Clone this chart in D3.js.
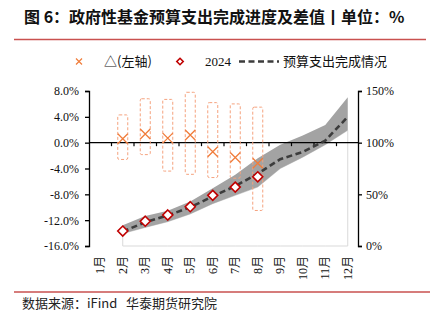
<!DOCTYPE html>
<html>
<head>
<meta charset="utf-8">
<script src="https://cdn.jsdelivr.net/npm/d3@7"></script>
<style>
  body { margin: 0; background: #fff; }
  svg { display: block; }
  text { white-space: pre; }
</style>
</head>
<body>
<script>
// categories along the bottom
var months = ['1月','2月','3月','4月','5月','6月','7月','8月','9月','10月','11月','12月'];

// budget spending progress (right axis, %), history runs from feb to dec
var progMonths = ['2月','3月','4月','5月','6月','7月','8月','9月','10月','11月','12月'];
var avgProgress = [14, 23, 29.5, 37.5, 48, 58, 70, 84, 91, 102, 125];
var bandLow  = [12, 18, 23.5, 31, 41, 49, 57, 75, 86, 98, 112];
var bandHigh = [20, 29, 34, 43, 56, 69, 85, 98, 107, 117, 144];

// 2024 values and the gap vs history (left axis, %)
var months2024 = ['2月','3月','4月','5月','6月','7月','8月'];
var progress2024 = [14.5, 24, 30, 38, 49, 57, 67];
var deltaVals = [0.6, 1.35, 0.7, 1.2, -1.4, -2.3, -3.2];
var deltaHigh = [4.3, 6.8, 6.7, 7.8, 6.2, 6.0, 5.5];
var deltaLow  = [-2.6, -1.85, -4.4, -4.9, -5.4, -5.5, -10.5];

// tick labels
var leftTicks = [-16, -12, -8, -4, 0, 4, 8];
var rightTicks = [0, 50, 100, 150];

var width = 430, height = 321;
var serif = '"Liberation Serif", "Times New Roman", "Noto Sans CJK SC", serif';
var cjk = '"Noto Sans CJK SC", sans-serif';

var svg = d3.select('body').append('svg')
    .attr('width', width)
    .attr('height', height);

// title + red rules
svg.append('text')
    .attr('x', 24).attr('y', 23)
    .attr('font-family', cjk)
    .attr('font-weight', 'bold')
    .attr('font-size', 16)
    .attr('fill', '#111')
    .text('图 6：政府性基金预算支出完成进度及差值丨单位：%');

svg.append('line')
    .attr('x1', 14).attr('x2', 426).attr('y1', 39.5).attr('y2', 39.5)
    .attr('stroke', '#c9514f').attr('stroke-width', 1.5);

svg.append('line')
    .attr('x1', 14).attr('x2', 430).attr('y1', 292).attr('y2', 292)
    .attr('stroke', '#c9514f').attr('stroke-width', 1.5);

svg.append('text')
    .attr('x', 22).attr('y', 308)
    .attr('font-family', cjk)
    .attr('font-size', 13)
    .attr('fill', '#222')
    .text('数据来源：iFind   华泰期货研究院');

// scales
var x = d3.scaleBand().domain(months).range([89, 359]).padding(0);
var cx = function(m) { return x(m) + x.bandwidth() / 2; };
var yL = d3.scaleLinear().domain([-16, 8]).range([246, 91]);
var yR = d3.scaleLinear().domain([0, 150]).range([246, 91]);

// white lower area with a light outline, then the grey range band on top
var lowArea = d3.area()
    .x(function(d, i) { return cx(progMonths[i]); })
    .y0(yR(0))
    .y1(function(d) { return yR(d); });

svg.append('path')
    .datum(bandLow)
    .attr('d', lowArea)
    .attr('fill', '#fff')
    .attr('stroke', '#d9d9d9')
    .attr('stroke-width', 1);

var band = d3.area()
    .x(function(d, i) { return cx(progMonths[i]); })
    .y0(function(d, i) { return yR(bandLow[i]); })
    .y1(function(d, i) { return yR(bandHigh[i]); });

svg.append('path')
    .datum(bandHigh)
    .attr('d', band)
    .attr('fill', '#a3a3a3');

// zero line with category ticks
svg.append('line')
    .attr('x1', 89).attr('x2', 359)
    .attr('y1', yL(0)).attr('y2', yL(0))
    .attr('stroke', '#000').attr('stroke-width', 1.3);

svg.append('g').selectAll('line')
    .data(months.slice(1))
    .enter().append('line')
        .attr('x1', function(m) { return x(m); })
        .attr('x2', function(m) { return x(m); })
        .attr('y1', yL(0)).attr('y2', yL(0) + 3.5)
        .attr('stroke', '#000').attr('stroke-width', 1.2);

// left axis
var gL = svg.append('g')
    .attr('transform', 'translate(89,0)')
    .call(d3.axisLeft(yL).tickValues(leftTicks).tickSize(4)
        .tickFormat(function(d) { return d.toFixed(1) + '%'; }));

// right axis
var gR = svg.append('g')
    .attr('transform', 'translate(358,0)')
    .call(d3.axisRight(yR).tickValues(rightTicks).tickSize(4)
        .tickFormat(function(d) { return d + '%'; }));

[gL, gR].forEach(function(g) {
    g.selectAll('path, line').attr('stroke', '#000').attr('stroke-width', 1.3);
    g.selectAll('text')
        .attr('font-family', serif)
        .attr('font-size', 12)
        .attr('fill', '#111');
});
gL.selectAll('text').attr('x', -10);
gR.selectAll('text').attr('x', 8);

// month labels, rotated
svg.append('g').selectAll('text')
    .data(months)
    .enter().append('text')
        .attr('transform', function(m) { return 'translate(' + cx(m) + ',256) rotate(-90)'; })
        .attr('dy', '0.35em')
        .attr('text-anchor', 'end')
        .attr('font-family', serif)
        .attr('font-size', 12)
        .attr('fill', '#111')
        .text(function(m) { return m; });

// dashed range boxes for the gap
svg.append('g').selectAll('rect')
    .data(months2024)
    .enter().append('rect')
        .attr('x', function(m) { return cx(m) - 5; })
        .attr('width', 10)
        .attr('y', function(m, i) { return yL(deltaHigh[i]); })
        .attr('height', function(m, i) { return yL(deltaLow[i]) - yL(deltaHigh[i]); })
        .attr('rx', 1.5)
        .attr('fill', 'none')
        .attr('stroke', '#f5a27e')
        .attr('stroke-width', 1)
        .attr('stroke-dasharray', '3,2');

// cross markers for the gap
function cross(g, px, py, r, w) {
    g.append('path')
        .attr('d', 'M' + (px - r) + ',' + (py - r) + 'L' + (px + r) + ',' + (py + r) +
                   'M' + (px - r) + ',' + (py + r) + 'L' + (px + r) + ',' + (py - r))
        .attr('stroke', '#f07c3a')
        .attr('stroke-width', w)
        .attr('fill', 'none');
}
var gX = svg.append('g');
months2024.forEach(function(m, i) { cross(gX, cx(m), yL(deltaVals[i]), 5, 1.3); });

// average progress dashed line
var line = d3.line()
    .x(function(d, i) { return cx(progMonths[i]); })
    .y(function(d) { return yR(d); });

svg.append('path')
    .datum(avgProgress)
    .attr('d', line)
    .attr('fill', 'none')
    .attr('stroke', '#3c3c3c')
    .attr('stroke-width', 2.6)
    .attr('stroke-dasharray', '6,3.5');

// 2024 diamonds
function diamond(g, px, py, r) {
    g.append('path')
        .attr('d', 'M' + px + ',' + (py - r) + 'L' + (px + r) + ',' + py +
                   'L' + px + ',' + (py + r) + 'L' + (px - r) + ',' + py + 'Z')
        .attr('fill', '#fff')
        .attr('stroke', '#c00000')
        .attr('stroke-width', 1.6);
}
var gD = svg.append('g');
months2024.forEach(function(m, i) { diamond(gD, cx(m), yR(progress2024[i]), 5); });

// legend
var lg = svg.append('g');
cross(lg, 79, 61.5, 3, 1.2);
lg.append('text').attr('x', 104).attr('y', 66)
    .attr('font-family', cjk).attr('font-size', 13).attr('fill', '#111')
    .text('△(左轴)');
diamond(lg, 180, 61.5, 3.2);
lg.append('text').attr('x', 205).attr('y', 66)
    .attr('font-family', serif).attr('font-size', 13).attr('fill', '#111')
    .text('2024');
lg.append('line')
    .attr('x1', 239).attr('x2', 279).attr('y1', 61.5).attr('y2', 61.5)
    .attr('stroke', '#3c3c3c').attr('stroke-width', 2.4)
    .attr('stroke-dasharray', '6,3.5');
lg.append('text').attr('x', 283).attr('y', 66)
    .attr('font-family', cjk).attr('font-size', 13).attr('fill', '#111')
    .text('预算支出完成情况');
</script>
</body>
</html>
